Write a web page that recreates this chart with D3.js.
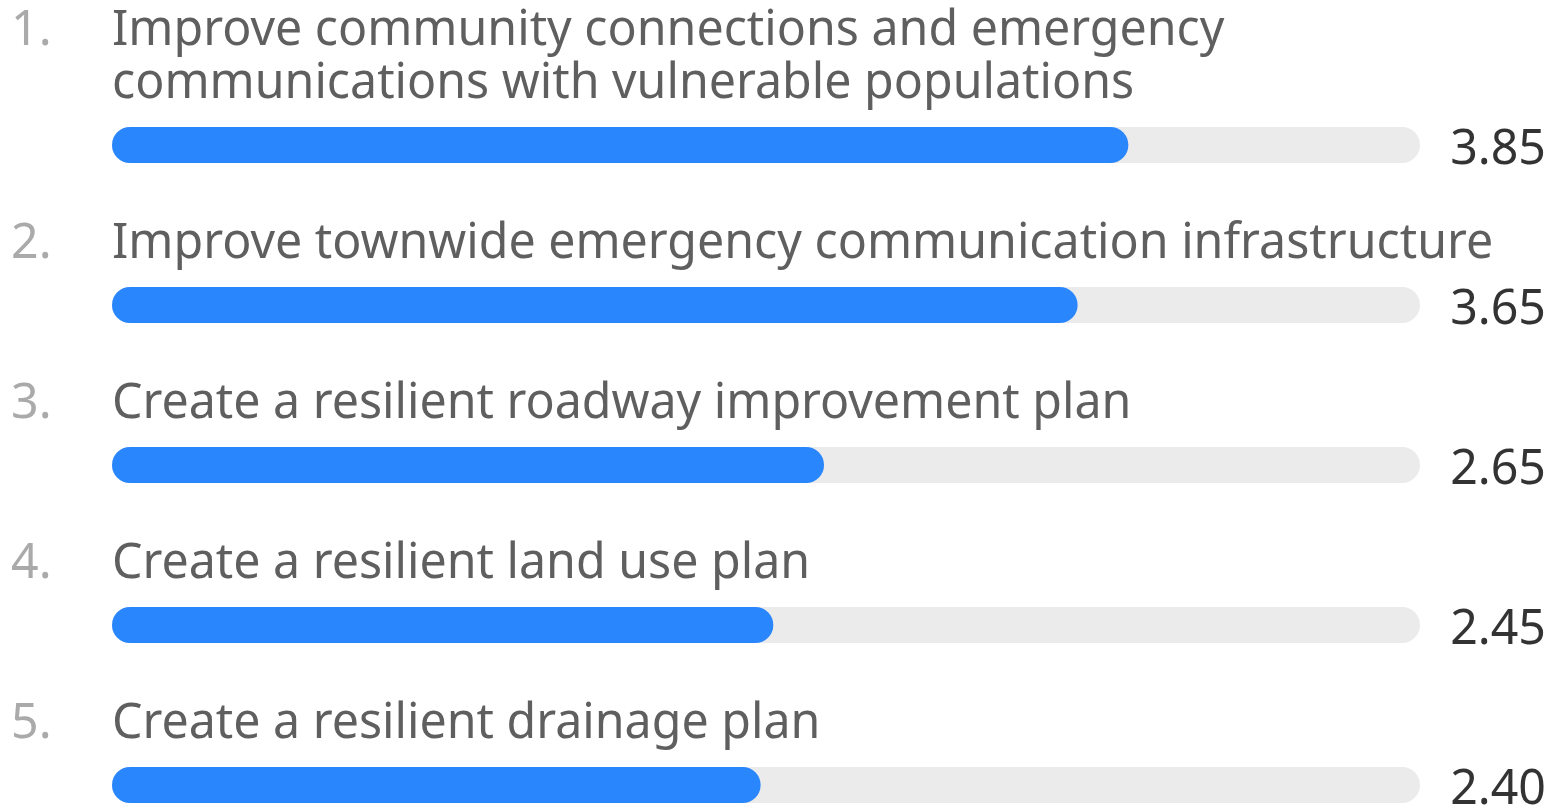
<!DOCTYPE html>
<html>
<head>
<meta charset="utf-8">
<script src="https://cdn.jsdelivr.net/npm/d3@7"></script>
<style>
  html, body { margin: 0; padding: 0; background: #fff; }
  svg { display: block; font-family: "Noto Sans", "Open Sans", sans-serif; }
</style>
</head>
<body>
<div id="chart"></div>
<script>
const categories = [
  "Improve community connections and emergency communications with vulnerable populations",
  "Improve townwide emergency communication infrastructure",
  "Create a resilient roadway improvement plan",
  "Create a resilient land use plan",
  "Create a resilient drainage plan"
]
const scores = [3.85, 3.65, 2.65, 2.45, 2.40]
const scoreDomain = [0, 5]

const width = 1556
const height = 805
const bar_h = 36
const track = {left: 112, right: 1420}
const font_size = 48.3
const line_h = 53.3
const wrap_width = 1420

const dataset = categories.map((c, i) => ({rank: i + 1, name: c, value: scores[i]}))

const svg = d3.select('#chart').append('svg')
  .attr('width', width)
  .attr('height', height)
  .attr('viewBox', '0,0,' + width + ',' + height)

// bar end position; rounded cap eats into the start of the track
const x = d3.scaleLinear()
  .domain(scoreDomain)
  .range([track.left + 40, track.right])

const y = d3.scaleBand()
  .domain(dataset.map(d => d.rank))
  .range([127, 127 + 160 * dataset.length])

const rows = svg.selectAll('g.row').data(dataset).enter().append('g')
  .attr('class', 'row')
  .attr('transform', d => `translate(0,${y(d.rank)})`)

rows.append('rect')
  .attr('x', track.left)
  .attr('y', 0)
  .attr('width', track.right - track.left)
  .attr('height', bar_h)
  .attr('rx', bar_h / 2)
  .attr('fill', '#ebebeb')

rows.append('rect')
  .attr('x', track.left)
  .attr('y', 0)
  .attr('width', d => x(d.value) - track.left)
  .attr('height', bar_h)
  .attr('rx', bar_h / 2)
  .attr('fill', '#2a86fc')

rows.append('text')
  .attr('x', 1546)
  .attr('y', bar_h + 0.5)
  .attr('text-anchor', 'end')
  .attr('font-size', font_size)
  .attr('fill', '#333')
  .text(d => d.value.toFixed(2))

// label text, wrapped word by word, last line sits just above the bar
rows.each(function(d){
  const g = d3.select(this)
  const txt = g.append('text')
    .attr('x', track.left)
    .attr('font-size', font_size)
    .attr('fill', '#5f5f5f')
  const words = d.name.split(' ')
  let lines = [], cur = []
  const probe = txt.append('tspan')
  words.forEach(w => {
    probe.text(cur.concat(w).join(' '))
    if(probe.node().getComputedTextLength() > wrap_width && cur.length){
      lines.push(cur.join(' '))
      cur = [w]
    } else cur.push(w)
  })
  lines.push(cur.join(' '))
  probe.remove()
  const base = -28.7 - (lines.length - 1) * line_h
  lines.forEach((l, i) => {
    txt.append('tspan')
      .attr('x', track.left)
      .attr('y', base + i * line_h)
      .text(l)
  })
  g.append('text')
    .attr('x', 11)
    .attr('y', base)
    .attr('font-size', font_size)
    .attr('fill', '#aaa')
    .text(d.rank + '.')
})
</script>
</body>
</html>
